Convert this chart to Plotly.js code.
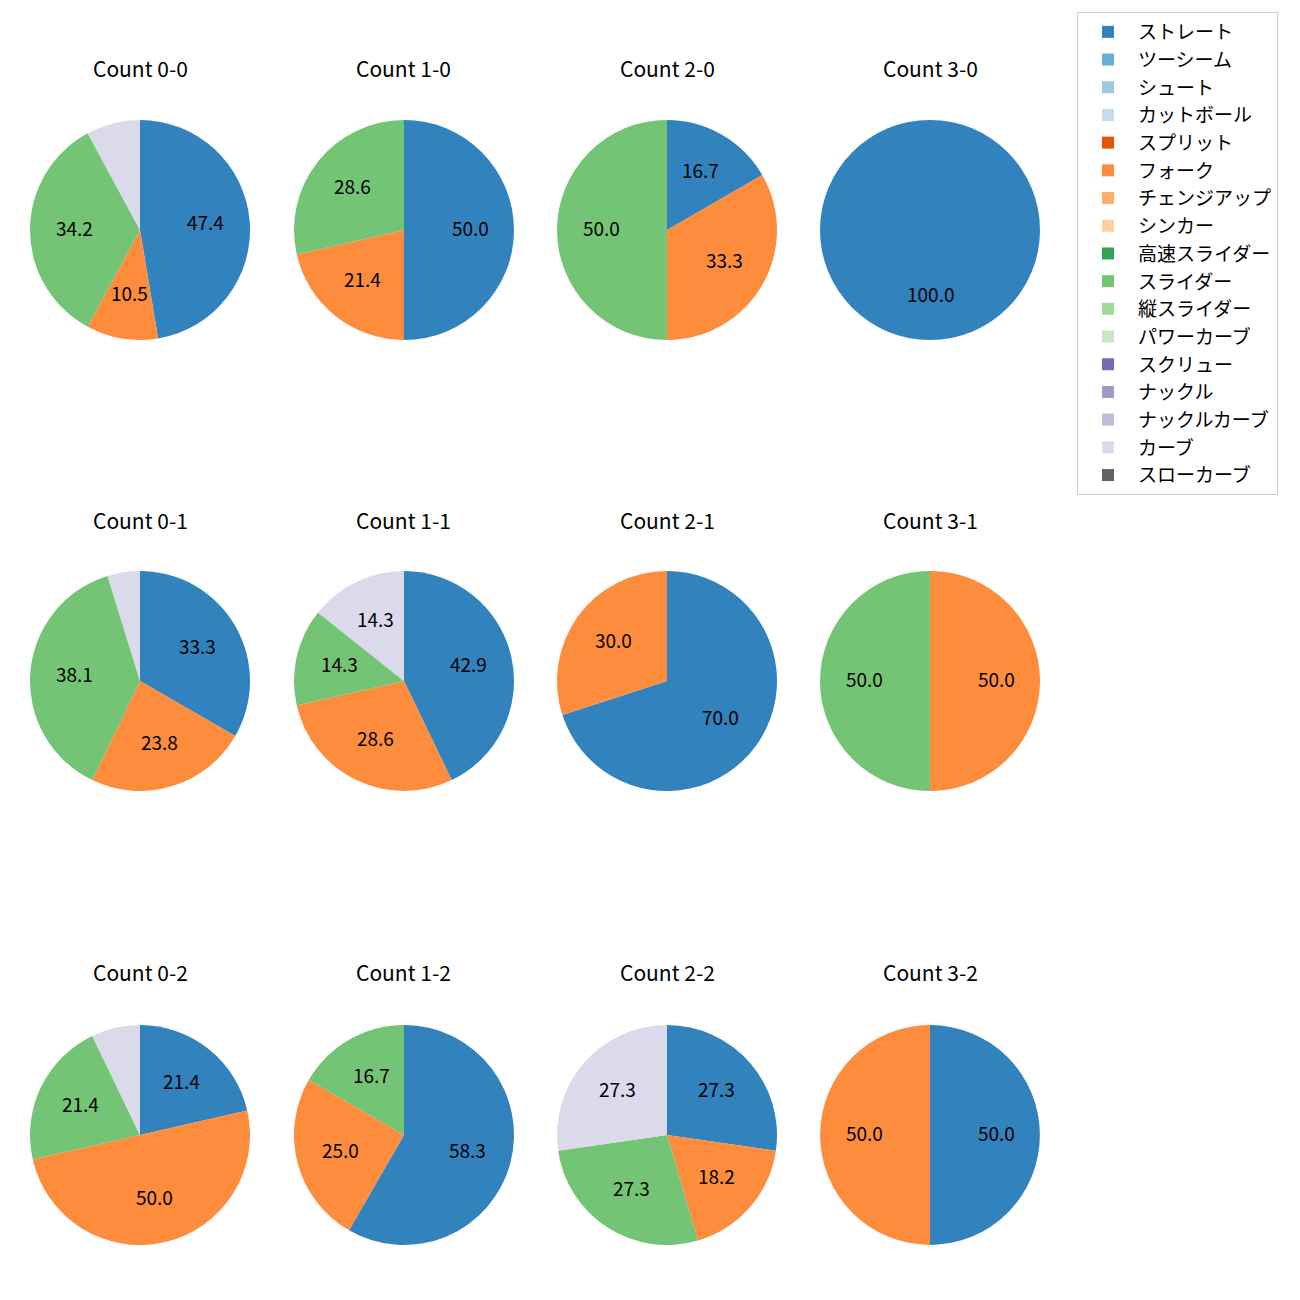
<!DOCTYPE html>
<html>
<head>
<meta charset="utf-8">
<script src="https://cdn.plot.ly/plotly-3.0.1.min.js"></script>
<style>html,body{margin:0;padding:0;background:#fff;}</style>
</head>
<body>
<div id="chart" style="width:1300px;height:1300px;"></div>
<script>
// Pitch types (legend order) and colours
const pitchTypes = ['ストレート','ツーシーム','シュート','カットボール','スプリット','フォーク','チェンジアップ','シンカー','高速スライダー','スライダー','縦スライダー','パワーカーブ','スクリュー','ナックル','ナックルカーブ','カーブ','スローカーブ'];
const pitchColors = ['#3182bd','#6baed6','#9ecae1','#c6dbef','#e6550d','#fd8d3c','#fdae6b','#fdd0a2','#31a354','#74c476','#a1d99b','#c7e9c0','#756bb1','#9e9ac8','#bcbddc','#dadaeb','#636363'];

// Counts (row-major: strikes by row, balls by column)
const countTitles = ['Count 0-0','Count 1-0','Count 2-0','Count 3-0',
                     'Count 0-1','Count 1-1','Count 2-1','Count 3-1',
                     'Count 0-2','Count 1-2','Count 2-2','Count 3-2'];

// Pitch counts per count situation (same order as countTitles)
const straight = [18, 7, 1, 1, 7, 3, 7, 0, 3, 7, 3, 1];
const fork     = [ 4, 3, 2, 0, 5, 2, 3, 1, 7, 3, 2, 1];
const slider   = [13, 4, 3, 0, 8, 1, 0, 1, 3, 2, 3, 0];
const curve    = [ 3, 0, 0, 0, 1, 1, 0, 0, 1, 0, 3, 0];

const seriesByType = {'ストレート': straight, 'フォーク': fork, 'スライダー': slider, 'カーブ': curve};

// Layout geometry (pixels)
const W = 1300, H = 1300;
const colCenters = [140, 404, 667, 930];
const rowCenters = [230, 681, 1135];
const titleY = [68, 520, 972];
const R = 110;
const FONT = '"Noto Sans CJK JP", "Noto Sans", sans-serif';

const traces = [];
const annotations = [];

countTitles.forEach((title, i) => {
  const col = i % 4, row = Math.floor(i / 4);
  const cx = colCenters[col], cy = rowCenters[row];
  const vals = pitchTypes.map(p => (seriesByType[p] ? seriesByType[p][i] : 0));
  traces.push({
    type: 'pie',
    labels: pitchTypes,
    values: vals,
    marker: {colors: pitchColors, line: {width: 0}},
    sort: false,
    direction: 'clockwise',
    rotation: 0,
    textinfo: 'none',
    hoverinfo: 'label+percent',
    showlegend: true,
    domain: {x: [(cx - R) / W, (cx + R) / W], y: [1 - (cy + R) / H, 1 - (cy - R) / H]}
  });
  annotations.push({
    x: cx / W, y: 1 - titleY[row] / H, xref: 'paper', yref: 'paper',
    text: title, showarrow: false, xanchor: 'center', yanchor: 'middle',
    font: {family: FONT, size: 21, color: '#000'}
  });
  // percentage labels at 0.6 radius along slice mid-angle (matplotlib style)
  const total = vals.reduce((a, b) => a + b, 0);
  let cum = 0;
  vals.forEach(v => {
    if (v > 0) {
      const pct = 100 * v / total;
      const theta = 2 * Math.PI * (cum + v / 2) / total;
      if (pct >= 10) {
        const lx = cx + 0.6 * R * Math.sin(theta);
        const ly = cy - 0.6 * R * Math.cos(theta) - 3;
        annotations.push({
          x: lx / W, y: 1 - ly / H, xref: 'paper', yref: 'paper',
          text: pct.toFixed(1), showarrow: false, xanchor: 'center', yanchor: 'middle',
          font: {family: FONT, size: 19, color: '#000'}
        });
      }
    }
    cum += v;
  });
});

const layout = {
  width: W, height: H,
  margin: {l: 0, r: 0, t: 0, b: 0},
  paper_bgcolor: '#fff',
  showlegend: true,
  legend: {
    x: 1077 / W, y: 1 - 12 / H, xanchor: 'left', yanchor: 'top',
    bordercolor: '#d0d0d0', borderwidth: 1, bgcolor: '#fff',
    font: {family: FONT, size: 19, color: '#000'},
    itemwidth: 50, traceorder: 'normal'
  },
  annotations: annotations
};

Plotly.newPlot('chart', traces, layout, {displayModeBar: false, staticPlot: true});
</script>
</body>
</html>
